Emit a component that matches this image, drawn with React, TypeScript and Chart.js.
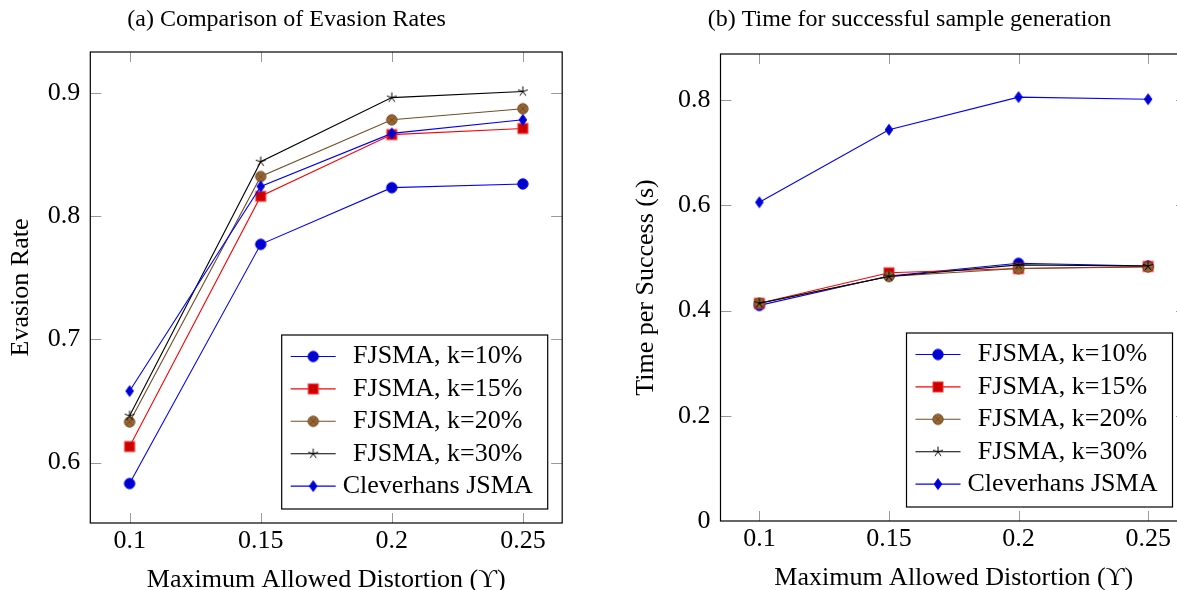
import React, { useEffect, useRef } from 'react';
import { Chart, registerables } from 'chart.js';

Chart.register(...registerables);

// ---------- data ----------
const xValues = [0.1, 0.15, 0.2, 0.25];
const xTickLabels = ['0.1', '0.15', '0.2', '0.25'];
const seriesLabels = ['FJSMA, k=10%', 'FJSMA, k=15%', 'FJSMA, k=20%', 'FJSMA, k=30%', 'Cleverhans JSMA'];

const evasionK10 = [0.583, 0.777, 0.823, 0.826];
const evasionK15 = [0.613, 0.816, 0.866, 0.871];
const evasionK20 = [0.633, 0.832, 0.878, 0.887];
const evasionK30 = [0.638, 0.844, 0.896, 0.901];
const evasionCleverhans = [0.658, 0.824, 0.867, 0.878];
const evasionTicks = [0.6, 0.7, 0.8, 0.9];
const evasionTickLabels = ['0.6', '0.7', '0.8', '0.9'];

const timeK10 = [0.41, 0.466, 0.49, 0.485];
const timeK15 = [0.414, 0.472, 0.48, 0.484];
const timeK20 = [0.414, 0.465, 0.48, 0.483];
const timeK30 = [0.414, 0.465, 0.487, 0.485];
const timeCleverhans = [0.606, 0.744, 0.806, 0.802];
const timeTicks = [0, 0.2, 0.4, 0.6, 0.8];
const timeTickLabels = ['0', '0.2', '0.4', '0.6', '0.8'];

// ---------- styles ----------
const FONT = '"Liberation Serif", "DejaVu Serif", serif';
const lineColors = ['#0000ff', '#ff0000', '#734d26', '#000000', '#0000ff'];
const markerKinds = ['circle', 'square', 'otimes', 'star', 'diamond'];

function makeMarker(kind: string): HTMLCanvasElement {
  const s = 14;
  const c = document.createElement('canvas');
  c.width = s;
  c.height = s;
  const ctx = c.getContext('2d')!;
  const cx = s / 2;
  const cy = s / 2;
  ctx.lineWidth = 1;
  if (kind === 'circle') {
    ctx.beginPath();
    ctx.arc(cx, cy, 5.2, 0, Math.PI * 2);
    ctx.fillStyle = '#0000cc';
    ctx.fill();
    ctx.strokeStyle = '#0000ff';
    ctx.stroke();
  } else if (kind === 'square') {
    ctx.fillStyle = '#cc0000';
    ctx.fillRect(cx - 5, cy - 5, 10, 10);
    ctx.strokeStyle = '#ff3030';
    ctx.strokeRect(cx - 5, cy - 5, 10, 10);
  } else if (kind === 'otimes') {
    ctx.beginPath();
    ctx.arc(cx, cy, 5.2, 0, Math.PI * 2);
    ctx.fillStyle = '#996633';
    ctx.fill();
    ctx.strokeStyle = '#734d26';
    ctx.stroke();
    const d = 5.2 * Math.SQRT1_2;
    ctx.beginPath();
    ctx.moveTo(cx - d, cy - d);
    ctx.lineTo(cx + d, cy + d);
    ctx.moveTo(cx + d, cy - d);
    ctx.lineTo(cx - d, cy + d);
    ctx.stroke();
  } else if (kind === 'star') {
    ctx.strokeStyle = '#000000';
    ctx.beginPath();
    for (let k = 0; k < 5; k++) {
      const a = -Math.PI / 2 + (k * 2 * Math.PI) / 5;
      ctx.moveTo(cx, cy);
      ctx.lineTo(cx + 5.2 * Math.cos(a), cy + 5.2 * Math.sin(a));
    }
    ctx.stroke();
  } else if (kind === 'diamond') {
    ctx.beginPath();
    ctx.moveTo(cx, cy - 5.4);
    ctx.lineTo(cx + 3.8, cy);
    ctx.lineTo(cx, cy + 5.4);
    ctx.lineTo(cx - 3.8, cy);
    ctx.closePath();
    ctx.fillStyle = '#0000cc';
    ctx.fill();
    ctx.strokeStyle = '#0000ff';
    ctx.stroke();
  }
  return c;
}

const framePlugin = {
  id: 'pgfFrame',
  beforeDatasetsDraw(chart: any) {
    const { ctx, chartArea: a, scales } = chart;
    const xs = scales.x;
    const ys = scales.y;
    ctx.save();
    ctx.strokeStyle = '#9a9a9a';
    ctx.lineWidth = 1;
    ctx.beginPath();
    xs.ticks.forEach((t: any) => {
      const px = Math.round(xs.getPixelForValue(t.value)) + 0.5;
      ctx.moveTo(px, a.bottom);
      ctx.lineTo(px, a.bottom - 10);
      ctx.moveTo(px, a.top);
      ctx.lineTo(px, a.top + 10);
    });
    ys.ticks.forEach((t: any) => {
      const py = Math.round(ys.getPixelForValue(t.value)) + 0.5;
      if (py > a.bottom - 1) return;
      ctx.moveTo(a.left, py);
      ctx.lineTo(a.left + 11, py);
      ctx.moveTo(a.right, py);
      ctx.lineTo(a.right - 11, py);
    });
    ctx.stroke();
    ctx.strokeStyle = '#000000';
    ctx.lineWidth = 1.2;
    ctx.strokeRect(a.left, a.top, a.right - a.left, a.bottom - a.top);
    ctx.restore();
  },
};

const legendPlugin = {
  id: 'boxLegend',
  afterDraw(chart: any) {
    const { ctx, chartArea: a } = chart;
    const w = 266;
    const h = 174;
    const left = a.right - 14.5 - w;
    const top = a.bottom - 14 - h;
    ctx.save();
    ctx.fillStyle = '#ffffff';
    ctx.fillRect(left, top, w, h);
    ctx.strokeStyle = '#000000';
    ctx.lineWidth = 1.2;
    ctx.strokeRect(left, top, w, h);
    chart.data.datasets.forEach((ds: any, i: number) => {
      const cy = top + 21.5 + i * 32.4;
      ctx.strokeStyle = ds.borderColor;
      ctx.lineWidth = ds.borderWidth;
      ctx.beginPath();
      ctx.moveTo(left + 9, cy);
      ctx.lineTo(left + 54, cy);
      ctx.stroke();
      const img = ds.pointStyle as HTMLCanvasElement;
      ctx.drawImage(img, left + 31.5 - img.width / 2, cy - img.height / 2);
      ctx.fillStyle = '#000000';
      ctx.font = `26px ${FONT}`;
      ctx.textAlign = 'center';
      ctx.textBaseline = 'middle';
      ctx.fillText(ds.label, left + 156, cy);
    });
    ctx.restore();
  },
};

interface PanelCfg {
  title: string;
  yTitle: string;
  series: number[][];
  yMin: number;
  yMax: number;
  yTicks: number[];
  yTickLabels: string[];
  yAxisWidth: number;
  yTitlePad: number;
  xAxisHeight: number;
  xTitlePad: number;
  titlePadTop: number;
  titlePadBottom: number;
  padRight: number;
}

function buildChart(canvas: HTMLCanvasElement, cfg: PanelCfg) {
  const markers = markerKinds.map(makeMarker);
  const datasets = cfg.series.map((vals, i) => ({
    label: seriesLabels[i],
    data: xValues.map((x, j) => ({ x, y: vals[j] })),
    borderColor: lineColors[i],
    backgroundColor: lineColors[i],
    borderWidth: 1.1,
    pointStyle: markers[i],
    pointRadius: 6,
    tension: 0,
    order: 5 - i,
  }));
  const tickFont = { family: FONT, size: 26, lineHeight: 1.2 };
  return new Chart(canvas, {
    type: 'line',
    data: { datasets },
    plugins: [framePlugin, legendPlugin],
    options: {
      responsive: false,
      animation: false,
      layout: { padding: { left: 0, right: cfg.padRight, top: 0, bottom: 0 } },
      plugins: {
        legend: { display: false },
        tooltip: { enabled: false },
        title: {
          display: true,
          text: cfg.title,
          color: '#000000',
          font: { family: FONT, size: 24, weight: 'normal', lineHeight: 1.2 },
          padding: { top: cfg.titlePadTop, bottom: cfg.titlePadBottom },
        },
      },
      scales: {
        x: {
          type: 'linear',
          min: 0.085,
          max: 0.265,
          afterBuildTicks: (s: any) => {
            s.ticks = xValues.map((v) => ({ value: v }));
          },
          afterFit: (s: any) => {
            s.height = cfg.xAxisHeight;
          },
          ticks: {
            callback: (_v: any, i: number) => xTickLabels[i],
            font: tickFont,
            color: '#000000',
            padding: 3,
            maxRotation: 0,
            autoSkip: false,
          },
          grid: { display: false, drawTicks: false },
          border: { display: false },
          title: {
            display: true,
            text: 'Maximum Allowed Distortion (ϒ)',
            color: '#000000',
            font: tickFont,
            padding: { top: 0, bottom: cfg.xTitlePad },
          },
        },
        y: {
          type: 'linear',
          min: cfg.yMin,
          max: cfg.yMax,
          afterBuildTicks: (s: any) => {
            s.ticks = cfg.yTicks.map((v) => ({ value: v }));
          },
          afterFit: (s: any) => {
            s.width = cfg.yAxisWidth;
          },
          ticks: {
            callback: (_v: any, i: number) => cfg.yTickLabels[i],
            font: tickFont,
            color: '#000000',
            padding: 10,
            autoSkip: false,
          },
          grid: { display: false, drawTicks: false },
          border: { display: false },
          title: {
            display: true,
            text: cfg.yTitle,
            color: '#000000',
            font: tickFont,
            padding: { top: cfg.yTitlePad, bottom: 0 },
          },
        },
      },
    } as any,
  });
}

function Panel(props: { left: number; width: number; cfg: PanelCfg }) {
  const ref = useRef<HTMLCanvasElement | null>(null);
  useEffect(() => {
    if (!ref.current) return;
    const chart = buildChart(ref.current, props.cfg);
    return () => chart.destroy();
  }, []);
  return (
    <div style={{ position: 'absolute', left: props.left, top: 0, width: props.width, height: 610 }}>
      <canvas ref={ref} width={props.width} height={610} style={{ width: props.width, height: 610, display: 'block' }} />
    </div>
  );
}

const leftCfg: PanelCfg = {
  title: '(a) Comparison of Evasion Rates',
  yTitle: 'Evasion Rate',
  series: [evasionK10, evasionK15, evasionK20, evasionK30, evasionCleverhans],
  yMin: 0.551,
  yMax: 0.933,
  yTicks: evasionTicks,
  yTickLabels: evasionTickLabels,
  yAxisWidth: 79.3,
  yTitlePad: -5.6,
  xAxisHeight: 87,
  xTitlePad: 14.4,
  titlePadTop: 5.4,
  titlePadBottom: 17.8,
  padRight: 22.8,
};

const rightCfg: PanelCfg = {
  title: '(b) Time for successful sample generation',
  yTitle: 'Time per Success (s)',
  series: [timeK10, timeK15, timeK20, timeK30, timeCleverhans],
  yMin: 0,
  yMax: 0.888,
  yTicks: timeTicks,
  yTickLabels: timeTickLabels,
  yAxisWidth: 88.5,
  yTitlePad: -1.6,
  xAxisHeight: 89,
  xTitlePad: 16.4,
  titlePadTop: 5.4,
  titlePadBottom: 19.8,
  padRight: 22,
};

export default function App() {
  return (
    <div
      style={{
        position: 'fixed',
        left: 0,
        top: 0,
        width: 1177,
        height: 590,
        overflow: 'hidden',
        background: '#ffffff',
      }}
    >
      <Panel left={11.4} width={574} cfg={leftCfg} />
      <Panel left={632} width={577} cfg={rightCfg} />
    </div>
  );
}
